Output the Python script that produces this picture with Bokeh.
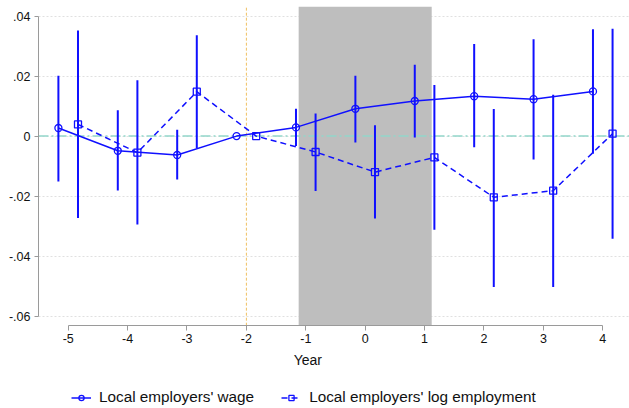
import numpy as np
from bokeh.plotting import figure
from bokeh.models import (Range1d, Span, BoxAnnotation, Label, Legend, LegendItem,
                          FixedTicker, ColumnDataSource)
from bokeh.transform import dodge
from bokeh.embed import file_html
from bokeh.resources import INLINE

# ---- data ----
years = [-5, -4, -3, -2, -1, 0, 1, 2, 3, 4]
wage = [0.0027, -0.0049, -0.0063, 0.0, 0.0029, 0.0091, 0.0117, 0.0133, 0.0123, 0.0149]
wage_lo = [-0.0151, -0.0181, -0.0145, np.nan, -0.0033, -0.0021, -0.0005, -0.0037, -0.0078, -0.0059]
wage_hi = [0.0201, 0.0086, 0.0021, np.nan, 0.0091, 0.0201, 0.0238, 0.0307, 0.0323, 0.0356]
emp = [0.0039, -0.0055, 0.0148, 0.0, -0.0053, -0.0120, -0.0071, -0.0204, -0.0182, 0.0008]
emp_lo = [-0.0273, -0.0295, -0.0040, np.nan, -0.0183, -0.0275, -0.0312, -0.0503, -0.0503, -0.0342]
emp_hi = [0.0352, 0.0186, 0.0336, np.nan, 0.0075, 0.0036, 0.0170, 0.0090, 0.0138, 0.0358]

y_ticks = [-0.06, -0.04, -0.02, 0.0, 0.02, 0.04]
y_tick_labels = ["-.06", "-.04", "-.02", "0", ".02", ".04"]
x_ticks = years
x_tick_labels = ["-5", "-4", "-3", "-2", "-1", "0", "1", "2", "3", "4"]
shade_range = (-1.12, 1.12)
ref_year = -2
series_names = ["Local employers' wage", "Local employers' log employment"]
offset = 0.165

Y_TOP = 0.0432        # top of plot region
Y_AXIS = -0.0632      # where the x axis sits
Y_BOTTOM = -0.0908    # bottom of the canvas (room for labels / legend)

BLUE = "#1010ff"
FONT = "Liberation Sans"

src = ColumnDataSource(dict(year=years, wage=wage, wage_lo=wage_lo, wage_hi=wage_hi,
                            emp=emp, emp_lo=emp_lo, emp_hi=emp_hi))

p = figure(width=629, height=408, output_backend="svg", toolbar_location=None,
           x_range=Range1d(-5.5, 4.45), y_range=Range1d(Y_BOTTOM, Y_TOP),
           min_border_left=38, min_border_right=0, min_border_top=6, min_border_bottom=0)
p.outline_line_color = None
p.background_fill_color = "white"
p.border_fill_color = "white"

# grid
p.xgrid.grid_line_color = None
p.ygrid.ticker = FixedTicker(ticks=y_ticks)
p.ygrid.grid_line_color = "#e0e0e0"
p.ygrid.grid_line_dash = "2 2"
p.ygrid.grid_line_width = 1

# shaded window
p.add_layout(BoxAnnotation(left=shade_range[0], right=shade_range[1], bottom=Y_AXIS,
                           fill_color="#bebebe", fill_alpha=1.0, line_color=None,
                           level="underlay"))
p.add_layout(Span(location=0, dimension="width", line_color="#92d6ca", line_width=1.5,
                  line_dash="10 3 2 3", level="underlay"))
p.segment(x0=[ref_year], y0=[Y_AXIS], x1=[ref_year], y1=[Y_TOP], line_color="#f0c060",
          line_width=1, line_dash="3 2", level="underlay")

xw = dodge("year", -offset, range=p.x_range)
xe = dodge("year", offset, range=p.x_range)

# CIs
p.segment(x0=xw, y0="wage_lo", x1=xw, y1="wage_hi", source=src, line_color=BLUE, line_width=2)
p.segment(x0=xe, y0="emp_lo", x1=xe, y1="emp_hi", source=src, line_color=BLUE, line_width=2)

lw = p.line(x=xw, y="wage", source=src, line_color=BLUE, line_width=1.5)
le = p.line(x=xe, y="emp", source=src, line_color=BLUE, line_width=1.5, line_dash="6 4")
mw = p.scatter(x=xw, y="wage", source=src, marker="circle", size=7, line_color=BLUE,
               line_width=1.3, fill_alpha=0)
me = p.scatter(x=xe, y="emp", source=src, marker="square", size=7, line_color=BLUE,
               line_width=1.3, fill_alpha=0)

# axes
for ax in (p.xaxis, p.yaxis):
    ax.axis_line_color = "#9a9a9a"
    ax.major_tick_line_color = "#9a9a9a"
    ax.minor_tick_line_color = None
    ax.major_tick_in = 0
    ax.major_label_text_font = FONT
    ax.major_label_text_font_size = "12.5px"
    ax.major_label_text_color = "#111111"
p.yaxis.ticker = FixedTicker(ticks=y_ticks)
p.yaxis.major_label_overrides = {t: l for t, l in zip(y_ticks, y_tick_labels)}
p.yaxis.major_label_orientation = "horizontal"
p.yaxis.bounds = (y_ticks[0], y_ticks[-1])
p.yaxis.major_tick_out = 4
p.yaxis.major_label_standoff = 4
p.xaxis.ticker = FixedTicker(ticks=x_ticks)
p.xaxis.major_label_overrides = {t: l for t, l in zip(x_ticks, x_tick_labels)}
p.xaxis.bounds = (x_ticks[0], x_ticks[-1])
p.xaxis.fixed_location = Y_AXIS
p.xaxis.major_tick_out = 5
p.xaxis.major_label_standoff = 3

p.add_layout(Label(x=-0.965, y=-0.0745, text="Year", text_align="center",
                   text_baseline="middle", text_font=FONT, text_font_size="14px",
                   text_color="#111111"))

legend = Legend(items=[LegendItem(label=series_names[0], renderers=[lw, mw]),
                       LegendItem(label=series_names[1], renderers=[le, me])],
                location=(33, 2), orientation="horizontal", padding=0, margin=0,
                spacing=27, glyph_width=20, glyph_height=13, label_standoff=8,
                label_height=17, label_text_font=FONT, label_text_font_size="15.3px",
                label_text_color="#111111", border_line_color=None,
                background_fill_alpha=0)
p.add_layout(legend, "center")

open("out.html", "w").write(file_html(p, INLINE))
